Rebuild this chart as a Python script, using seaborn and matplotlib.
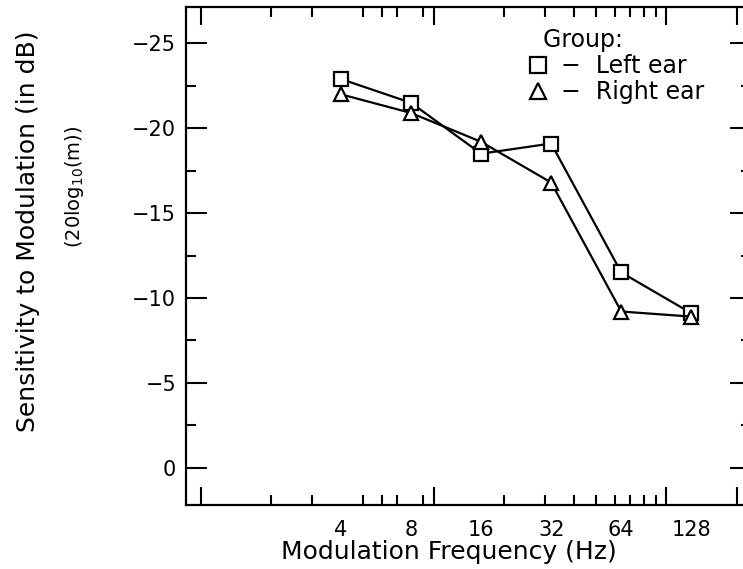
import matplotlib
matplotlib.use("Agg")
import matplotlib.pyplot as plt
import matplotlib.ticker as mticker
from matplotlib.lines import Line2D
import pandas as pd
import seaborn as sns

sns.set_style("ticks")
plt.rcParams["font.family"] = ["DejaVu Sans"]
plt.rcParams["text.color"] = "black"
plt.rcParams["axes.labelcolor"] = "black"
plt.rcParams["xtick.color"] = "black"
plt.rcParams["ytick.color"] = "black"

# data
freqs = [4, 8, 16, 32, 64, 128]
left_ear = [-22.9, -21.5, -18.5, -19.1, -11.5, -9.1]
right_ear = [-22.0, -20.9, -19.2, -16.8, -9.2, -8.9]
groups = ["Left ear", "Right ear"]
freq_labels = ["4", "8", "16", "32", "64", "128"]
long_ticks = [1, 10, 100, 200]
short_ticks = [2, 3, 4, 5, 6, 7, 8, 9, 20, 30, 40, 50, 60, 70, 80, 90]

df = pd.DataFrame({
    "freq": freqs * 2,
    "sens": left_ear + right_ear,
    "ear": [groups[0]] * len(freqs) + [groups[1]] * len(freqs),
})
markers = {"Left ear": "s", "Right ear": "^"}

fig = plt.figure(figsize=(7.43, 5.69), dpi=100)
ax = fig.add_axes([0.2503, 0.1125, 0.76, 0.8757])

sns.lineplot(data=df, x="freq", y="sens", hue="ear", style="ear",
             markers=markers, dashes=False, palette=["black", "black"],
             markerfacecolor="white", markeredgecolor="black",
             markeredgewidth=1.6, markersize=10, linewidth=1.6,
             legend=False, ax=ax)

ax.set_xscale("log")
ax.set_xlim(0.865, 230)
ax.set_ylim(2.2, -27.16)

for s in ax.spines.values():
    s.set_linewidth(1.6)
    s.set_color("black")

# x: labels at octave frequencies, no tick mark there
ax.xaxis.set_major_locator(mticker.FixedLocator(freqs))
ax.xaxis.set_major_formatter(mticker.FixedFormatter(freq_labels))
ax.xaxis.set_minor_locator(mticker.FixedLocator(short_ticks))
ax.xaxis.set_minor_formatter(mticker.NullFormatter())
ax.tick_params(axis="x", which="major", length=0, pad=11, labelsize=15)
ax.tick_params(axis="x", which="minor", direction="in", length=7.2,
               width=1.5, top=True, bottom=True)

# long ticks at decades, bottom and top
for side in ["bottom", "top"]:
    sec = ax.secondary_xaxis(side)
    sec.set_xticks(long_ticks)
    sec.xaxis.set_minor_locator(mticker.NullLocator())
    sec.tick_params(direction="in", length=13, width=1.5,
                    labelbottom=False, labeltop=False)
    for s in sec.spines.values():
        s.set_visible(False)

ax.yaxis.set_major_locator(mticker.MultipleLocator(5))
ax.yaxis.set_minor_locator(mticker.MultipleLocator(2.5))
ax.tick_params(axis="y", which="major", direction="in", length=14.9,
               width=1.5, left=True, right=True, labelsize=15, pad=7)
ax.tick_params(axis="y", which="minor", direction="in", length=7.2,
               width=1.5, left=True, right=True)

ax.set_xlabel("Modulation Frequency (Hz)", fontsize=18)
ax.xaxis.label.set_va("center")
ax.xaxis.set_label_coords(0.466, -0.094)
ax.set_ylabel("Sensitivity to Modulation (in dB)", fontsize=18)
ax.yaxis.label.set_va("center")
ax.yaxis.set_label_coords(-0.279, 0.55)
ax.text(-0.197, 0.638, r"(20log$_{10}$(m))", transform=ax.transAxes,
        rotation=90, ha="center", va="center", fontsize=14)

handles = [Line2D([], [], marker=markers[g], linestyle="none",
                  markerfacecolor="white", markeredgecolor="black",
                  markeredgewidth=1.6, markersize=11) for g in groups]
labels = ["\u2212  " + g for g in groups]
leg = ax.legend(handles, labels, title="  Group:", loc="upper left",
                bbox_to_anchor=(0.605, 0.958), frameon=False, fontsize=17,
                title_fontsize=17, borderpad=0, borderaxespad=0,
                labelspacing=0.08, handlelength=0.9, handletextpad=0.5,
                alignment="left")
leg._legend_box.sep = 2

fig.savefig("out.png", dpi=100)
